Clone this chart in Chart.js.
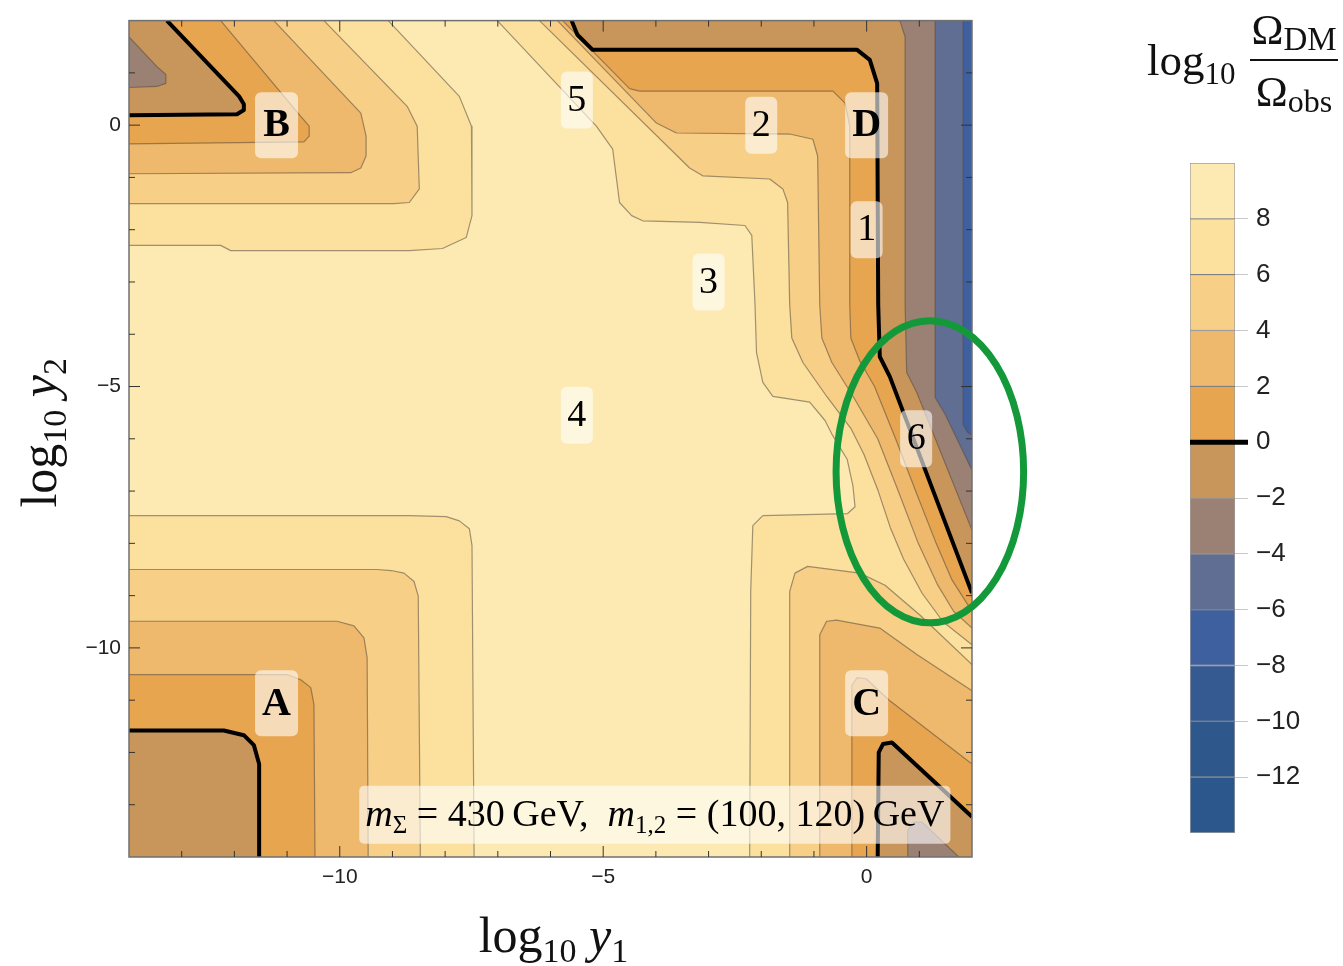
<!DOCTYPE html>
<html>
<head>
<meta charset="utf-8">
<script src="https://cdn.jsdelivr.net/npm/chart.js@4.4.1/dist/chart.umd.min.js"></script>
<style>
  html, body { margin: 0; padding: 0; background: #fff; }
  #wrap { position: relative; width: 1343px; height: 966px; }
  #main { position: absolute; left: 0; top: 0; }
  #bar { position: absolute; left: 1140px; top: 0; }
</style>
</head>
<body>
<div id="wrap">
  <canvas id="main" width="1343" height="966"></canvas>
  <canvas id="bar" width="203" height="966"></canvas>
</div>
<script>
// ---- axes and colour scale ----
const X_TICKS = [-10, -5, 0];
const Y_TICKS = [0, -5, -10];
const BAR_TICKS = [8, 6, 4, 2, 0, -2, -4, -6, -8, -10, -12];
const BAND_LO = [8, 6, 4, 2, 0, -2, -4, -6, -8, -10, -12, -14];
const BAND_COLORS = ['#FDEAB2', '#FBE09E', '#F7CF87', '#EEB86D', '#E7A54F', '#C8955A',
                     '#9B8074', '#616E94', '#3F609E', '#355A92', '#2E578C', '#2B578C'];

// ---- contour paths of log10(Ω_DM/Ω_obs) in (log10 y1, log10 y2) ----
// level 8
const A8 = [[-14,-7.47],[-8.68,-7.47],[-7.98,-7.49],[-7.73,-7.57],[-7.54,-7.72],[-7.49,-8.04],[-7.45,-14]];
const B8 = [[-9.08,2],[-7.73,0.55],[-7.50,-0.02],[-7.49,-1.73],[-7.60,-2.15],[-8.05,-2.36],[-8.68,-2.40],[-12.07,-2.40],[-12.26,-2.30],[-14,-2.30]];
const R8 = [[-7.01,2],[-5.13,-0.02],[-4.82,-0.46],[-4.69,-1.48],[-4.46,-1.73],[-4.25,-1.83],[-3.17,-1.86],[-2.31,-1.92],[-2.18,-2.11],[-2.12,-3.40],[-2.09,-4.35],[-1.97,-4.92],[-1.78,-5.19],[-1.08,-5.30],[-0.79,-5.65],[-0.66,-5.91],[-0.37,-6.39],[-0.26,-6.90],[-0.22,-7.30],[-0.36,-7.43],[-1.97,-7.47],[-2.16,-7.66],[-2.20,-8.92],[-2.22,-14]];
// level 6
const A6 = [[-14,-8.50],[-9.29,-8.50],[-9.02,-8.52],[-8.78,-8.57],[-8.59,-8.73],[-8.51,-9.01],[-8.47,-14]];
const B6 = [[-10.30,2],[-8.72,0.36],[-8.53,-0.02],[-8.49,-1.22],[-8.68,-1.48],[-8.97,-1.50],[-14,-1.50]];
const R6 = [[-6.21,2],[-3.36,-0.82],[-3.11,-0.97],[-1.84,-1.03],[-1.59,-1.22],[-1.50,-1.48],[-1.46,-3.44],[-1.42,-4.07],[-1.21,-4.54],[-0.75,-5.2],[-0.30,-5.8],[-0.05,-6.3],[0.22,-7.0],[0.45,-7.7],[0.70,-8.3],[1.05,-8.95],[1.45,-9.5],[2,-9.94]];
const C6 = [[-1.46,-14],[-1.46,-8.92],[-1.36,-8.57],[-1.12,-8.44],[-0.13,-8.57],[0.35,-8.80],[1.01,-9.37],[2,-10.32]];
// level 4
const A4 = [[-14,-9.49],[-10.05,-9.49],[-9.73,-9.58],[-9.54,-9.81],[-9.48,-10.19],[-9.46,-14]];
const B4 = [[-11.25,2],[-9.60,0.23],[-9.50,-0.21],[-9.50,-0.59],[-9.60,-0.82],[-9.79,-0.91],[-14,-0.93]];
const R4 = [[-5.87,2],[-3.99,0.04],[-3.61,-0.15],[-1.46,-0.17],[-1.02,-0.27],[-0.93,-0.59],[-0.89,-3.44],[-0.85,-4.07],[-0.66,-4.54],[-0.25,-5.2],[0.21,-6.0],[0.60,-7.0],[0.98,-8.0],[1.35,-8.8],[1.65,-9.3],[2,-9.62]];
const C4 = [[-0.89,-14],[-0.89,-9.75],[-0.76,-9.49],[-0.57,-9.47],[0.25,-9.62],[0.96,-10.13],[2,-10.82]];
// level 2
const A2 = [[-14,-10.51],[-11.0,-10.51],[-10.74,-10.61],[-10.55,-10.76],[-10.49,-11.08],[-10.47,-14]];
const B2 = [[-12.26,2],[-10.74,0.17],[-10.58,-0.02],[-10.58,-0.21],[-10.68,-0.32],[-14,-0.36]];
const R2 = [[-5.77,2],[-4.50,0.70],[-4.31,0.65],[-0.64,0.65],[-0.41,0.42],[-0.32,-0.02],[-0.32,-3.44],[-0.30,-4.07],[-0.13,-4.51],[0.15,-5.0],[0.55,-6.0],[0.93,-7.0],[1.32,-8.0],[1.62,-8.7],[2,-9.30]];
const C2 = [[-0.28,-14],[-0.28,-10.72],[-0.18,-10.57],[-0.01,-10.59],[0.44,-11.01],[2,-12.22]];
// level 0
const A0 = [[-14,-11.58],[-12.20,-11.58],[-11.82,-11.67],[-11.63,-11.86],[-11.53,-12.22],[-11.53,-14]];
const B0 = [[-13.28,2],[-11.91,0.55],[-11.82,0.40],[-11.82,0.29],[-11.95,0.21],[-14,0.19]];
const R0 = [[-5.60,2],[-5.49,1.73],[-5.20,1.44],[-0.18,1.44],[0.06,1.25],[0.20,0.80],[0.22,-3.44],[0.25,-4.43],[0.44,-4.81],[2,-8.95]];
const C0 = [[0.21,-14],[0.23,-12.0],[0.31,-11.84],[0.48,-11.81],[2,-13.23]];
// levels -2, -4, -6
const BM2 = [[-14,1.69],[-13.47,1.12],[-13.30,0.97],[-13.30,0.80],[-13.47,0.74],[-14,0.72]];
const RM2 = [[0.63,2],[0.73,1.69],[0.73,-3.44],[0.76,-4.73],[0.95,-5.11],[2,-7.75]];
const CM2 = [[0.78,-14],[0.78,-13.48],[0.90,-13.33],[1.05,-13.33],[1.75,-14]];
const RM4 = [[1.30,2],[1.30,-5.21],[1.49,-5.53],[2,-6.60]];
const RM6 = [[1.83,2],[1.83,-5.72],[1.91,-5.87],[2,-5.93]];

// ---- point annotations ----
const LETTERS = ['A', 'B', 'C', 'D'];
const LETTER_X = [-11.2, -11.2, 0, 0];
const LETTER_Y = [-11.06, 0, -11.06, 0];
const NUMBERS = ['1', '2', '3', '4', '5', '6'];
const NUMBER_X = [0, -2, -3, -5.5, -5.5, 0.94];
const NUMBER_Y = [-2, 0, -3, -5.55, 0.48, -6];
const NOTE_X = -4.02, NOTE_Y = -13.19;
const CIRCLE = { x: 1.2, y: -6.63, rx: 1.78, ry: 2.89 };

// ---- helpers ----
const SERIF = '"Liberation Serif", "Times New Roman", serif';
const SANS = '"Liberation Sans", Arial, sans-serif';
const fmt = v => (v < 0 ? '\u2212' + Math.abs(v) : String(v));
const pts = a => a.map(([x, y]) => ({ x, y }));
const bandColor = lo => BAND_COLORS[BAND_LO.indexOf(lo)];

const TL = [[-14, 2]], BL = [[-14, -14]], TR = [[2, 2]], BR = [[2, -14]];
// each region: path, closing corners, contour level (region holds values below it)
const REGIONS = [
  [[[-14,-14],[-14,2],[2,2],[2,-14]], [], 10],
  [A8, BL, 8], [B8, TL, 8], [R8, BR.concat(TR), 8],
  [A6, BL, 6], [B6, TL, 6], [R6, TR, 6], [C6, BR, 6],
  [A4, BL, 4], [B4, TL, 4], [R4, TR, 4], [C4, BR, 4],
  [A2, BL, 2], [B2, TL, 2], [R2, TR, 2], [C2, BR, 2],
  [A0, BL, 0], [B0, TL, 0], [R0, TR, 0], [C0, BR, 0],
  [BM2, [], -2], [RM2, TR, -2], [CM2, [], -2],
  [RM4, TR, -4],
  [RM6, TR, -6]
];
const LINES = [
  [A8, 8], [B8, 8], [R8, 8], [A6, 6], [B6, 6], [R6, 6], [C6, 6],
  [A4, 4], [B4, 4], [R4, 4], [C4, 4], [A2, 2], [B2, 2], [R2, 2], [C2, 2],
  [BM2, -2], [RM2, -2], [CM2, -2], [RM4, -4], [RM6, -6],
  [A0, 0], [B0, 0], [R0, 0], [C0, 0]
];

const datasets = [];
REGIONS.forEach(([path, close, lvl]) => {
  datasets.push({
    data: pts(path.concat(close)), showLine: true, fill: 'shape',
    backgroundColor: bandColor(lvl - 2), borderColor: 'rgba(0,0,0,0)', borderWidth: 0,
    pointRadius: 0
  });
});
LINES.forEach(([path, lvl]) => {
  datasets.push({
    data: pts(path), showLine: true, fill: false, pointRadius: 0,
    borderColor: lvl === 0 ? '#000' : 'rgba(85,75,60,0.55)',
    borderWidth: lvl === 0 ? 4 : 1.2,
    borderJoinStyle: 'round', borderCapStyle: 'butt'
  });
});
// first entry is painted first (at the bottom)
datasets.forEach((d, i) => { d.order = datasets.length - i; });

function runs(ctx, list, x, y, align) {
  let w = 0;
  list.forEach(r => { ctx.font = r[1]; w += ctx.measureText(r[0]).width; });
  let cx = align === 'center' ? x - w / 2 : x;
  list.forEach(r => {
    ctx.font = r[1];
    ctx.fillText(r[0], cx, y + (r[2] || 0));
    cx += ctx.measureText(r[0]).width;
  });
  return w;
}

function tag(ctx, text, px, py, w, h, font, size) {
  ctx.fillStyle = 'rgba(255,255,255,0.6)';
  ctx.beginPath();
  ctx.roundRect(px - w / 2, py - h / 2, w, h, 6);
  ctx.fill();
  ctx.fillStyle = '#000';
  ctx.font = font;
  ctx.textAlign = 'center';
  ctx.textBaseline = 'alphabetic';
  ctx.fillText(text, px, py + size * 0.33 - 2);
}

const decor = {
  id: 'decor',
  afterDatasetsDraw(chart) {
    const { ctx, chartArea: a, scales: { x, y } } = chart;
    ctx.save();
    // frame and inward ticks
    ctx.strokeStyle = '#707070';
    ctx.lineWidth = 1.5;
    ctx.strokeRect(a.left, a.top, a.right - a.left, a.bottom - a.top);
    ctx.strokeStyle = '#333';
    ctx.lineWidth = 1;
    ctx.beginPath();
    for (let v = -13; v <= 1; v++) {
      const len = v % 5 === 0 ? 11 : 6;
      const px = x.getPixelForValue(v), py = y.getPixelForValue(v);
      ctx.moveTo(px, a.bottom); ctx.lineTo(px, a.bottom - len);
      ctx.moveTo(px, a.top); ctx.lineTo(px, a.top + len);
      ctx.moveTo(a.left, py); ctx.lineTo(a.left + len, py);
      ctx.moveTo(a.right, py); ctx.lineTo(a.right - len, py);
    }
    ctx.stroke();

    // point tags
    LETTERS.forEach((t, i) => tag(ctx, t, x.getPixelForValue(LETTER_X[i]), y.getPixelForValue(LETTER_Y[i]),
      43, 66, `bold 40px ${SERIF}`, 40));
    NUMBERS.forEach((t, i) => tag(ctx, t, x.getPixelForValue(NUMBER_X[i]), y.getPixelForValue(NUMBER_Y[i]),
      32, 57, `38px ${SERIF}`, 38));

    // parameter note
    const nx = x.getPixelForValue(NOTE_X), ny = y.getPixelForValue(NOTE_Y);
    const note = [
      ['m', `italic 38px ${SERIF}`], ['\u03A3', `25px ${SERIF}`, 7],
      [' = 430\u2009GeV,  ', `38px ${SERIF}`],
      ['m', `italic 38px ${SERIF}`], ['1,2', `25px ${SERIF}`, 7],
      [' = (100, 120)\u2009GeV', `38px ${SERIF}`]
    ];
    ctx.textAlign = 'left';
    ctx.textBaseline = 'alphabetic';
    let w = 0;
    note.forEach(r => { ctx.font = r[1]; w += ctx.measureText(r[0]).width; });
    ctx.fillStyle = 'rgba(255,255,255,0.6)';
    ctx.beginPath();
    ctx.roundRect(nx - w / 2 - 6, ny - 29, w + 12, 58, 5);
    ctx.fill();
    ctx.fillStyle = '#000';
    runs(ctx, note, nx, ny + 11, 'center');

    // highlighted band
    ctx.strokeStyle = '#14993A';
    ctx.lineWidth = 7;
    const cx = x.getPixelForValue(CIRCLE.x), cy = y.getPixelForValue(CIRCLE.y);
    const rx = x.getPixelForValue(CIRCLE.x + CIRCLE.rx) - cx;
    const ry = y.getPixelForValue(CIRCLE.y - CIRCLE.ry) - cy;
    ctx.beginPath();
    ctx.ellipse(cx, cy, rx, ry, 0, 0, Math.PI * 2);
    ctx.stroke();

    // axis titles
    ctx.fillStyle = '#111';
    const mid = (a.left + a.right) / 2;
    runs(ctx, [['log', `50px ${SERIF}`], ['10', `34px ${SERIF}`, 10], [' ', `50px ${SERIF}`],
               ['y', `italic 50px ${SERIF}`], ['1', `34px ${SERIF}`, 10]], mid + 3, 952, 'center');
    ctx.save();
    ctx.translate(56, (a.top + a.bottom) / 2 - 6);
    ctx.rotate(-Math.PI / 2);
    runs(ctx, [['log', `50px ${SERIF}`], ['10', `34px ${SERIF}`, 10], [' ', `50px ${SERIF}`],
               ['y', `italic 50px ${SERIF}`], ['2', `34px ${SERIF}`, 10]], 0, 0, 'center');
    ctx.restore();
    ctx.restore();
  }
};

new Chart(document.getElementById('main'), {
  type: 'scatter',
  data: { datasets },
  options: {
    responsive: false,
    animation: false,
    events: [],
    layout: { padding: { left: 0, top: 16, right: 371, bottom: 0 } },
    plugins: { legend: { display: false }, tooltip: { enabled: false } },
    elements: { line: { tension: 0 }, point: { radius: 0 } },
    scales: {
      x: {
        type: 'linear', min: -14, max: 2,
        afterBuildTicks: s => { s.ticks = X_TICKS.map(v => ({ value: v })); },
        afterFit: s => { s.height = 109; },
        grid: { display: false, drawTicks: false },
        border: { display: false },
        ticks: { autoSkip: false, maxRotation: 0, padding: 8, color: '#222',
                 font: { family: SANS, size: 21 }, callback: fmt }
      },
      y: {
        type: 'linear', min: -14, max: 2,
        afterBuildTicks: s => { s.ticks = Y_TICKS.map(v => ({ value: v })); },
        afterFit: s => { s.width = 129; },
        grid: { display: false, drawTicks: false },
        border: { display: false },
        ticks: { autoSkip: false, padding: 8, color: '#222',
                 font: { family: SANS, size: 21 }, callback: fmt }
      }
    }
  },
  plugins: [decor]
});

// ---- colour bar ----
const barDecor = {
  id: 'barDecor',
  afterDraw(chart) {
    const { ctx, chartArea: a, scales: { y } } = chart;
    ctx.save();
    ctx.strokeStyle = '#000';
    ctx.lineWidth = 5;
    const p0 = y.getPixelForValue(0);
    ctx.beginPath();
    ctx.moveTo(a.left, p0);
    ctx.lineTo(a.right + 13, p0);
    ctx.stroke();

    ctx.fillStyle = '#111';
    ctx.textAlign = 'left';
    ctx.textBaseline = 'alphabetic';
    runs(ctx, [['log', `45px ${SERIF}`], ['10', `31px ${SERIF}`, 9]], 7, 75, 'left');
    runs(ctx, [['\u03A9', `43px ${SERIF}`], ['DM', `33px ${SERIF}`, 6]], 154, 44, 'center');
    runs(ctx, [['\u03A9', `43px ${SERIF}`], ['obs', `32px ${SERIF}`, 6]], 154, 106, 'center');
    ctx.strokeStyle = '#111';
    ctx.lineWidth = 2;
    ctx.beginPath();
    ctx.moveTo(110, 60);
    ctx.lineTo(198, 60);
    ctx.stroke();
    ctx.restore();
  }
};

new Chart(document.getElementById('bar'), {
  type: 'bar',
  data: {
    labels: [''],
    datasets: BAND_LO.map((lo, i) => ({
      data: [[lo, lo + 2]], backgroundColor: BAND_COLORS[i],
      borderColor: 'rgba(40,40,40,0.45)', borderWidth: 1, borderSkipped: false,
      barPercentage: 1, categoryPercentage: 1, grouped: false
    }))
  },
  options: {
    responsive: false,
    animation: false,
    events: [],
    layout: { padding: { left: 50, top: 163, bottom: 133, right: 0 } },
    plugins: { legend: { display: false }, tooltip: { enabled: false } },
    scales: {
      x: { display: false },
      y: {
        position: 'right', min: -14, max: 10,
        afterBuildTicks: s => { s.ticks = BAR_TICKS.map(v => ({ value: v })); },
        afterFit: s => { s.width = 108; },
        grid: { drawOnChartArea: false, tickLength: 13, color: '#c8c8c8' },
        border: { display: false },
        ticks: { autoSkip: false, padding: 8, color: '#222',
                 font: { family: SANS, size: 26 }, callback: fmt }
      }
    }
  },
  plugins: [barDecor]
});
</script>
</body>
</html>
